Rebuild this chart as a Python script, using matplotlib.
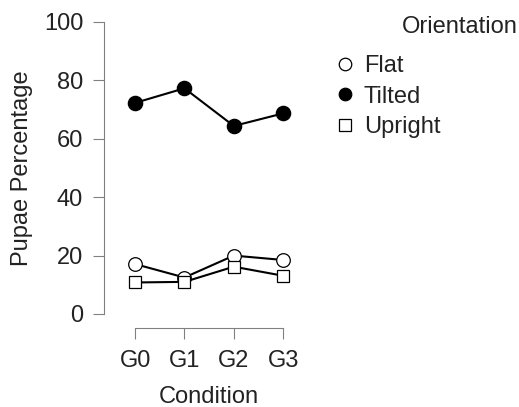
import matplotlib.pyplot as plt
from matplotlib.lines import Line2D

plt.rcParams['font.family'] = ['Liberation Sans', 'DejaVu Sans']

conditions = ["G0", "G1", "G2", "G3"]
flat = [17.1, 12.5, 20.0, 18.5]
tilted = [72.3, 77.3, 64.4, 68.7]
upright = [10.8, 11.0, 16.2, 13.1]

fig = plt.figure(figsize=(5.19, 4.07), dpi=100)
ax = fig.add_axes([104 / 519, 1 - 314 / 407, 189 / 519, 292 / 407])

x = range(len(conditions))
ax.plot(x, flat, color="black", lw=1.5, marker="o", ms=9.8,
        mfc="white", mec="black", mew=0.9, zorder=3)
ax.plot(x, tilted, color="black", lw=1.5, marker="o", ms=10.3,
        mfc="black", mec="black", mew=0.9, zorder=3)
ax.plot(x, upright, color="black", lw=1.5, marker="s", ms=8.2,
        mfc="white", mec="black", mew=0.9, zorder=4)

ax.set_xlim(-0.63, 3.2)
ax.set_ylim(0, 100)
ax.set_xticks(list(x))
ax.set_xticklabels(conditions)
ax.set_yticks([0, 20, 40, 60, 80, 100])

for s in ["top", "right"]:
    ax.spines[s].set_visible(False)
ax.spines["bottom"].set_position(("outward", 10))
ax.spines["bottom"].set_bounds(0, 3)
for s in ["left", "bottom"]:
    ax.spines[s].set_color("#808080")
    ax.spines[s].set_linewidth(0.8)
ax.tick_params(axis="both", direction="out", length=8, width=0.8,
               color="#808080", labelsize=17, labelcolor="#222222")
ax.tick_params(axis="x", pad=8)
ax.tick_params(axis="y", pad=7)

ax.set_ylabel("Pupae Percentage", fontsize=17, color="#222222")
ax.yaxis.set_label_coords(-0.376, 0.5)
ax.set_xlabel("Condition", fontsize=17, color="#222222")
ax.xaxis.set_label_coords(0.556, -0.245)

fig.text(460 / 519, 1 - 27 / 407, "Orientation", fontsize=17,
         ha="center", va="center", color="#222222")
handles = [
    Line2D([], [], ls="none", marker="o", ms=9, mfc="white", mec="black", mew=0.9),
    Line2D([], [], ls="none", marker="o", ms=9, mfc="black", mec="black", mew=0.9),
    Line2D([], [], ls="none", marker="s", ms=8, mfc="white", mec="black", mew=0.9),
]
fig.legend(handles, ["Flat", "Tilted", "Upright"], loc="upper left",
           bbox_to_anchor=(335.5 / 519, 1 - 55 / 407), frameon=False,
           fontsize=17, handlelength=0.8, handletextpad=0.4,
           labelspacing=0.365, borderpad=0, borderaxespad=0,
           labelcolor="#222222")

fig.savefig("out.png", dpi=100)
